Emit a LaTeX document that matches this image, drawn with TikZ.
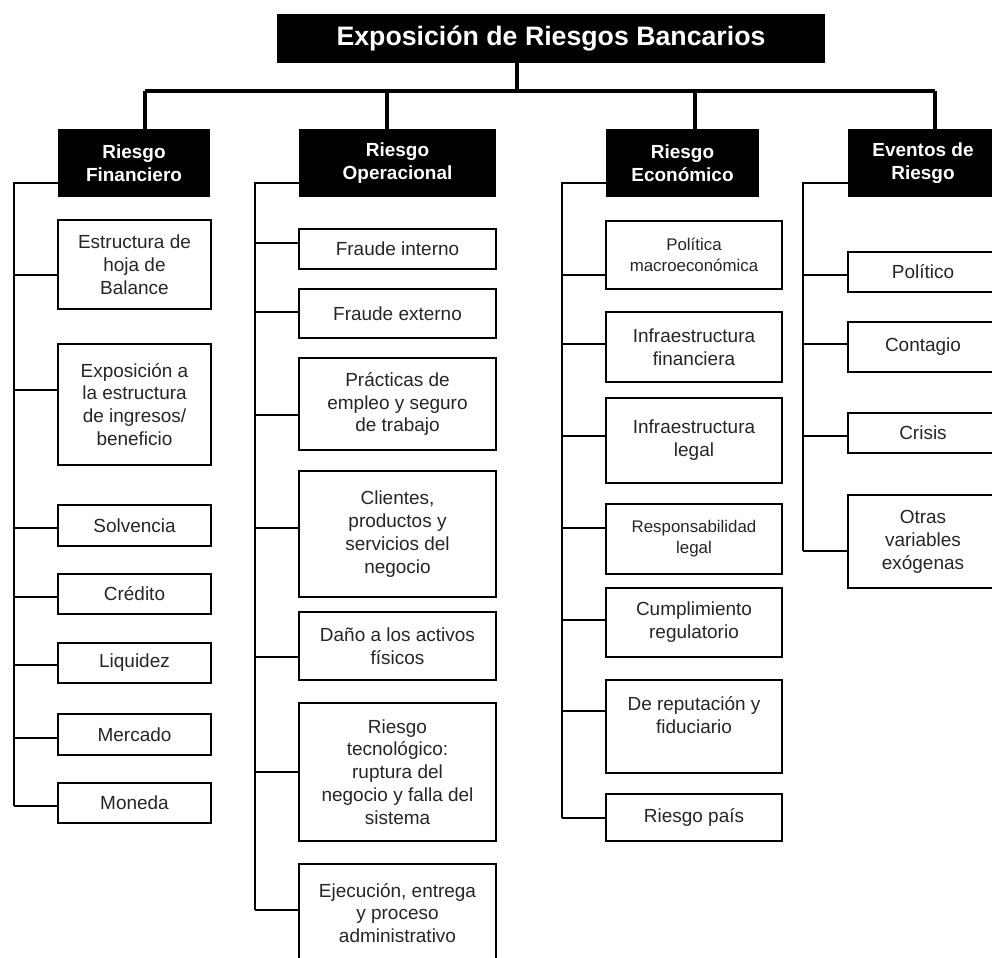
\documentclass[tikz,border=0pt]{standalone}
\usepackage{fontspec}
\setmainfont{Liberation Sans}

\begin{document}
\begin{tikzpicture}[x=0.02cm, y=-0.02cm,
    title node/.style={rectangle, fill=black, text=white, minimum width=10.96cm, minimum height=0.98cm, font=\fontsize{15.2}{18}\selectfont\bfseries},
    head node/.style={rectangle, fill=black, text=white, align=center, minimum height=1.36cm, font=\fontsize{10.8}{13}\selectfont\bfseries},
    leaf node/.style={rectangle, draw, line width=1pt, fill=white, text=black!85, align=center, inner sep=2pt, font=\fontsize{10.8}{13}\selectfont},
    small/.style={font=\fontsize{9.6}{12}\selectfont},
    fin leaf/.style={leaf node, minimum width=3.06cm},
    op leaf/.style={leaf node, minimum width=3.94cm},
    eco leaf/.style={leaf node, minimum width=3.52cm},
    ev leaf/.style={leaf node, minimum width=3cm},
    bus/.style={line width=2.3pt},
    link/.style={line width=1pt}]
\useasboundingbox (0,0) rectangle (992,958);

\node[title node] (top) at (551,38.5) {Exposición de Riesgos Bancarios};

% categorias
\node[head node, minimum width=3.04cm] (cf) at (134,163) {Riesgo\\Financiero};
\node[head node, minimum width=3.94cm] (co) at (397.5,163) {Riesgo\\Operacional};
\node[head node, minimum width=3.06cm] (ce) at (682.5,163) {Riesgo\\Económico};
\node[head node, minimum width=3cm] (cv) at (923,163) {Eventos de\\Riesgo};

% riesgo financiero
\node[fin leaf, minimum height=1.78cm] (f1) at (134.5,264.5) {Estructura de\\hoja de\\Balance};
\node[fin leaf, minimum height=2.42cm] (f2) at (134.5,404.5) {Exposición a\\la estructura\\de ingresos/\\beneficio};
\node[fin leaf, minimum height=0.82cm] (f3) at (134.5,525.5) {Solvencia};
\node[fin leaf, minimum height=0.8cm] (f4) at (134.5,594) {Crédito};
\node[fin leaf, minimum height=0.8cm] (f5) at (134.5,663) {Liquidez};
\node[fin leaf, minimum height=0.82cm] (f6) at (134.5,734.5) {Mercado};
\node[fin leaf, minimum height=0.8cm] (f7) at (134.5,803) {Moneda};

% riesgo operacional
\node[op leaf, minimum height=0.8cm] (o1) at (397.5,249) {Fraude interno};
\node[op leaf, minimum height=0.98cm] (o2) at (397.5,313.5) {Fraude externo};
\node[op leaf, minimum height=1.84cm] (o3) at (397.5,404) {Prácticas de\\empleo y seguro\\de trabajo};
\node[op leaf, minimum height=2.52cm] (o4) at (397.5,534) {Clientes,\\productos y\\servicios del\\negocio};
\node[op leaf, minimum height=1.36cm] (o5) at (397.5,646) {Daño a los activos\\físicos};
\node[op leaf, minimum height=2.76cm] (o6) at (397.5,772) {Riesgo\\tecnológico:\\ruptura del\\negocio y falla del\\sistema};
\node[op leaf, minimum height=1.96cm] (o7) at (397.5,913) {Ejecución, entrega\\y proceso\\administrativo};

% riesgo economico
\node[eco leaf, small, minimum height=1.36cm] (e1) at (694,255) {Política\\macroeconómica};
\node[eco leaf, minimum height=1.4cm] (e2) at (694,347) {Infraestructura\\financiera};
\node[eco leaf, minimum height=1.7cm] (e3) at (694,440.5) {Infraestructura\\legal};
\node[eco leaf, small, minimum height=1.4cm] (e4) at (694,539) {Responsabilidad\\legal};
\node[eco leaf, minimum height=1.38cm] (e5) at (694,622.5) {Cumplimiento\\regulatorio};
\node[eco leaf, minimum height=1.86cm] (e6) at (694,726.5) {De reputación y\\fiduciario\\ \mbox{}};
\node[eco leaf, minimum height=0.94cm] (e7) at (694,817.5) {Riesgo país};

% eventos de riesgo
\node[ev leaf, minimum height=0.8cm] (v1) at (923,272) {Político};
\node[ev leaf, minimum height=1cm] (v2) at (923,347) {Contagio};
\node[ev leaf, minimum height=0.8cm] (v3) at (923,433) {Crisis};
\node[ev leaf, minimum height=1.86cm] (v4) at (923,541.5) {Otras\\variables\\exógenas};

% barra principal
\coordinate (hub) at (517,91);
\coordinate (dF) at (145,91);
\coordinate (dO) at (387,91);
\coordinate (dE) at (695,91);
\coordinate (dV) at (935,91);
\draw[bus] (hub) -- (hub |- top.south);
\draw[bus] (dF) -- (dV);
\foreach \d/\c in {dF/cf, dO/co, dE/ce, dV/cv}
    \draw[bus] (\d) -- (\d |- \c.north);

% columnas
\coordinate (sF) at (14,183);
\coordinate (sO) at (255,183);
\coordinate (sE) at (562,183);
\coordinate (sV) at (803,183);
\draw[link] (cf.west |- sF) -- (sF) -- (sF |- 0,806);
\draw[link] (co.west |- sO) -- (sO) -- (sO |- 0,910);
\draw[link] (ce.west |- sE) -- (sE) -- (sE |- 0,818);
\draw[link] (cv.west |- sV) -- (sV) -- (sV |- 0,551);
\foreach \n/\y in {f1/275, f2/390, f3/528, f4/597, f5/665, f6/738, f7/806}
    \draw[link] (\n.west |- 0,\y) -- (sF |- 0,\y);
\foreach \n/\y in {o1/243, o2/312, o3/415, o4/528, o5/657, o6/772, o7/910}
    \draw[link] (\n.west |- 0,\y) -- (sO |- 0,\y);
\foreach \n/\y in {e1/275, e2/344, e3/436, e4/528, e5/620, e6/711, e7/818}
    \draw[link] (\n.west |- 0,\y) -- (sE |- 0,\y);
\foreach \n/\y in {v1/275, v2/344, v3/436, v4/551}
    \draw[link] (\n.west |- 0,\y) -- (sV |- 0,\y);
\end{tikzpicture}
\end{document}
